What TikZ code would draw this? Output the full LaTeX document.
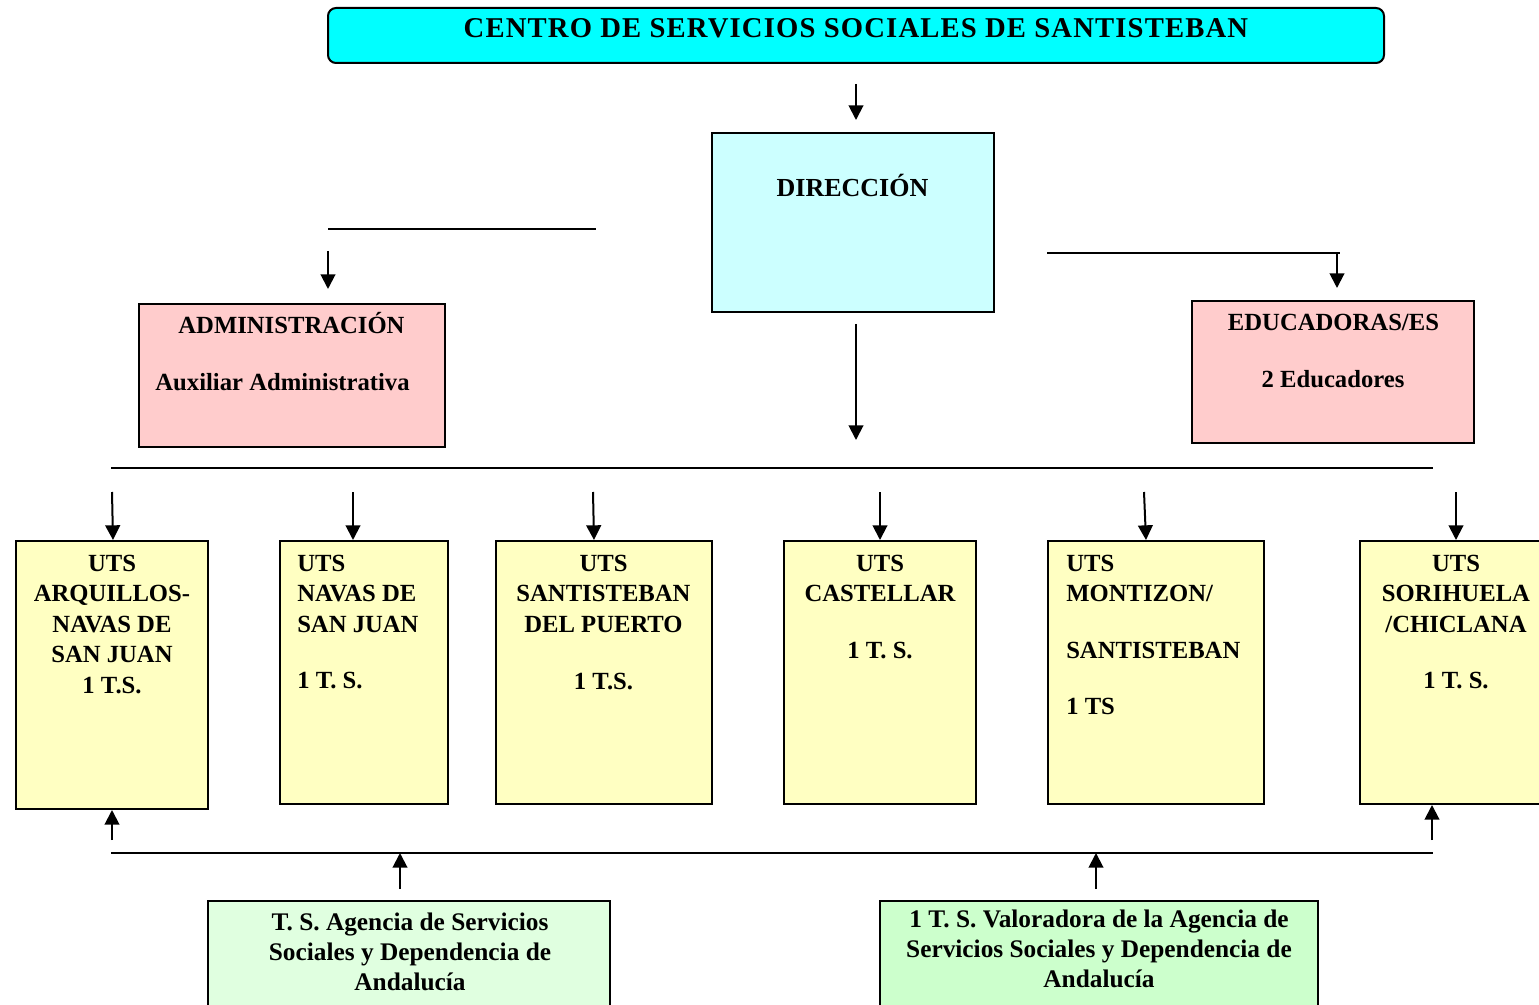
\documentclass[tikz,border=0pt]{standalone}
\usepackage{fontspec}
\setmainfont{Liberation Serif}
\newfontfamily\titlefont[LetterSpace=4]{Liberation Serif}
\usetikzlibrary{arrows.meta,fit}
\definecolor{titlecyan}{RGB}{0,255,255}
\definecolor{dircyan}{RGB}{204,255,255}
\definecolor{pinkbox}{RGB}{255,204,204}
\definecolor{utsyellow}{RGB}{255,255,194}
\definecolor{greenA}{RGB}{224,255,224}
\definecolor{greenB}{RGB}{204,255,204}
\begin{document}
\begin{tikzpicture}[x=0.75pt,y=-0.75pt,
  box/.style={draw=black, line width=1.5pt, inner sep=0pt},
  conn/.style={line width=1.5pt},
  arr/.style={conn, -{Triangle[length=11pt,width=11pt]}},
  btxt/.style={inner sep=0pt, font=\bfseries\fontsize{18.5}{22}\selectfont},
  gtxt/.style={inner sep=0pt, font=\bfseries\fontsize{19}{23}\selectfont},
  ttxt/.style={inner sep=0pt, font=\titlefont\bfseries\fontsize{21.5}{25}\selectfont}]
\useasboundingbox (0,0) rectangle (1539,1005);
\clip (0,0) rectangle (1539,1005);

% ---------- boxes ----------
\node[box, fill=titlecyan, rounded corners=6pt, fit={(328,8) (1384,63)}] (title) {};
\node[box, fill=dircyan, fit={(712,133) (994,312)}] (dir) {};
\node[box, fill=pinkbox, fit={(139,304) (445,447)}] (adm) {};
\node[box, fill=pinkbox, fit={(1192,301) (1474,443)}] (edu) {};
\node[box, fill=utsyellow, fit={(16,541) (208,809)}] (u1) {};
\node[box, fill=utsyellow, fit={(280,541) (448,804)}] (u2) {};
\node[box, fill=utsyellow, fit={(496,541) (712,804)}] (u3) {};
\node[box, fill=utsyellow, fit={(784,541) (976,804)}] (u4) {};
\node[box, fill=utsyellow, fit={(1048,541) (1264,804)}] (u5) {};
\node[box, fill=utsyellow, fit={(1360,541) (1570,804)}] (u6) {};
\node[box, fill=greenA, fit={(208,901) (610,1030)}] (g1) {};
\node[box, fill=greenB, fit={(880,901) (1318,1030)}] (g2) {};

% ---------- texts ----------
\node[ttxt, anchor=base] (titletxt) at (856,38) {CENTRO DE SERVICIOS SOCIALES DE SANTISTEBAN};
\node[btxt, font=\bfseries\fontsize{19.5}{23}\selectfont, anchor=base] (dirtxt) at (852.5,197) {DIRECCIÓN};
\node[btxt, anchor=base] (admtxt1) at (291.5,334) {ADMINISTRACIÓN};
\node[btxt, anchor=base] (admtxt2) at (282.5,391) {Auxiliar Administrativa};
\node[btxt, anchor=base] (edutxt1) at (1333.5,331) {EDUCADORAS/ES};
\node[btxt, anchor=base] (edutxt2) at (1333,388) {2 Educadores};

\foreach \lbl/\y [count=\i] in {UTS/571, ARQUILLOS-/601.5, NAVAS DE/632, SAN JUAN/662.5, 1 T.S./693}
  {\node[btxt, anchor=base] (u1l\i) at (112,\y) {\lbl};}
\foreach \lbl/\y [count=\i] in {UTS/571, NAVAS DE/601.5, SAN JUAN/632, 1 T. S./688}
  {\node[btxt, anchor=base west] (u2l\i) at (297,\y) {\lbl};}
\foreach \lbl/\y [count=\i] in {UTS/571, SANTISTEBAN/601.5, DEL PUERTO/632, 1 T.S./689}
  {\node[btxt, anchor=base] (u3l\i) at (603.5,\y) {\lbl};}
\foreach \lbl/\y [count=\i] in {UTS/571, CASTELLAR/601.5, 1 T. S./658}
  {\node[btxt, anchor=base] (u4l\i) at (880,\y) {\lbl};}
\foreach \lbl/\y [count=\i] in {UTS/571, {MONTIZON/}/601.5, SANTISTEBAN/658, 1 TS/714}
  {\node[btxt, anchor=base west] (u5l\i) at (1066,\y) {\lbl};}
\foreach \lbl/\y [count=\i] in {UTS/571, SORIHUELA/601.5, {/CHICLANA}/632, 1 T. S./688}
  {\node[btxt, anchor=base] (u6l\i) at (1456,\y) {\lbl};}

\foreach \lbl/\y [count=\i] in {T. S. Agencia de Servicios/930, Sociales y Dependencia de/960, Andalucía/990}
  {\node[gtxt, anchor=base] (g1l\i) at (410,\y) {\lbl};}
\foreach \lbl/\y [count=\i] in {1 T. S. Valoradora de la Agencia de/927, Servicios Sociales y Dependencia de/957, Andalucía/987}
  {\node[gtxt, anchor=base] (g2l\i) at (1099,\y) {\lbl};}

% ---------- connector coordinates ----------
\coordinate (topA) at (856,84);
\coordinate (topB) at (856,120);
\coordinate (dirA) at (856,324);
\coordinate (dirB) at (856,440);
\coordinate (lA) at (328,229);
\coordinate (lB) at (596,229);
\coordinate (lC) at (328,251);
\coordinate (lD) at (328,289);
\coordinate (rA) at (1047,253);
\coordinate (rB) at (1340,253);
\coordinate (rC) at (1337,253);
\coordinate (rD) at (1337,288);
\coordinate (hA) at (111,468);
\coordinate (hB) at (1433,468);
\coordinate (d1) at (112,492);
\coordinate (d2) at (353,492);
\coordinate (d3) at (593,492);
\coordinate (d4) at (880,492);
\coordinate (d5) at (1144,492);
\coordinate (d6) at (1456,492);
\coordinate (bA) at (111,853);
\coordinate (bB) at (1433,853);
\coordinate (up1) at (112,840);
\coordinate (up6) at (1432,840);
\coordinate (gu1) at (400,889);
\coordinate (gu2) at (1096,889);

% ---------- connectors ----------
\draw[arr] (topA) -- (topB);
\draw[arr] (dirA) -- (dirB);
\draw[conn] (lA) -- (lB);
\draw[arr] (lC) -- (lD);
\draw[conn] (rA) -- (rB);
\draw[arr] (rC) -- (rD);
\draw[conn] (hA) -- (hB);
\draw[arr] (d1) -- ([xshift=0.75pt]d1 |- u1.north);
\draw[arr] (d2) -- (d2 |- u2.north);
\draw[arr] (d3) -- ([xshift=0.75pt]d3 |- u3.north);
\draw[arr] (d4) -- (d4 |- u4.north);
\draw[arr] (d5) -- ([xshift=1.5pt]d5 |- u5.north);
\draw[arr] (d6) -- (d6 |- u6.north);
\draw[conn] (bA) -- (bB);
\draw[arr] (up1) -- (up1 |- u1.south);
\draw[arr] (up6) -- (up6 |- u6.south);
\draw[arr] (gu1) -- (gu1 |- bA);
\draw[arr] (gu2) -- (gu2 |- bA);
\end{tikzpicture}
\end{document}
